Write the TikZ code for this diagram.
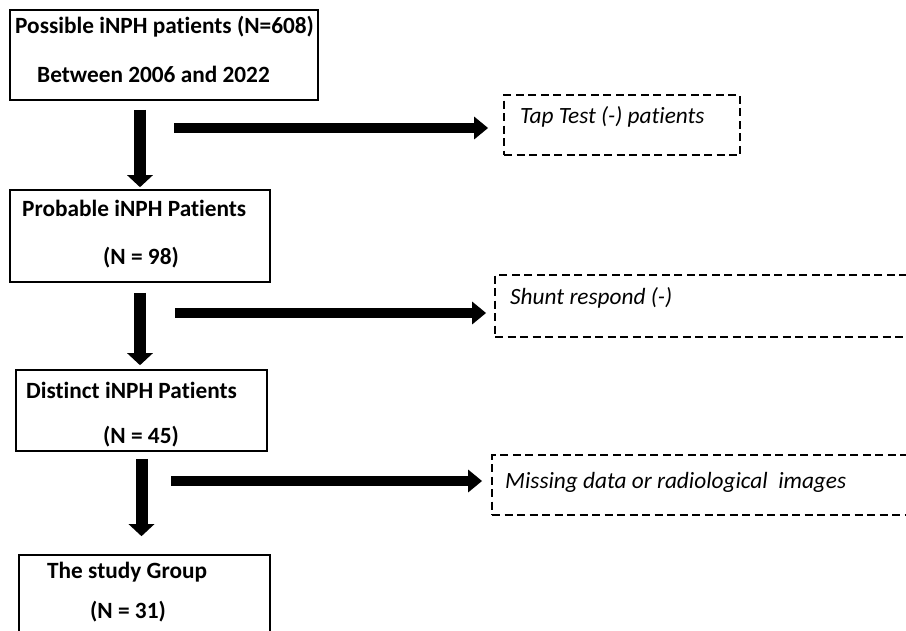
\documentclass[tikz,border=0pt]{standalone}
\usepackage{fontspec}
\setmainfont{Carlito}[Ligatures=NoCommon]
\usepackage{tikz}
\usetikzlibrary{arrows.meta}

\begin{document}
\begin{tikzpicture}[x=1pt, y=-1pt,
    solidbox/.style={draw, line width=1.6pt, inner sep=0pt},
    dashbox/.style={draw, line width=1.8pt, dash pattern=on 8pt off 4.5pt, inner sep=0pt},
    boldtext/.style={anchor=west, inner sep=0pt, font=\fontsize{23.3}{26}\selectfont\bfseries},
    ittext/.style={anchor=west, inner sep=0pt, font=\fontsize{23.3}{26}\selectfont\itshape},
    downarrow/.style={line width=12pt, -{Triangle[width=25pt,length=12pt]}},
    sidearrow/.style={line width=10pt, -{Triangle[width=22pt,length=14pt]}}]
      \useasboundingbox (0,0) rectangle (906,630);
      \clip (0,0) rectangle (906,630);
      % boxes
      \node[solidbox, minimum width=308pt, minimum height=90pt] (possible) at (164,55) {};
      \node[solidbox, minimum width=260pt, minimum height=92pt] (probable) at (140,236) {};
      \node[solidbox, minimum width=251pt, minimum height=81pt] (distinct) at (141.5,410.5) {};
      \node[solidbox, minimum width=251pt, minimum height=95pt] (group) at (144.5,602.5) {};
      \node[dashbox, minimum width=236pt, minimum height=60pt] (tap) at (622,125) {};
      \node[dashbox, minimum width=425pt, minimum height=62pt] (shunt) at (707.5,306) {};
      \node[dashbox, minimum width=428pt, minimum height=60pt] (missing) at (706,485) {};
      % texts
      \node[boldtext] (possibleA) at (15,27) {Possible iNPH patients (N=608)};
      \node[boldtext] (possibleB) at (37,74) {Between 2006 and 2022};
      \node[boldtext] (probableA) at (22,208) {Probable iNPH Patients};
      \node[boldtext] (probableB) at (103,258) {(N = 98)};
      \node[boldtext] (distinctA) at (26,390) {Distinct iNPH Patients};
      \node[boldtext] (distinctB) at (103,437) {(N = 45)};
      \node[boldtext] (groupA) at (47,572) {The study Group};
      \node[boldtext] (groupB) at (90,612) {(N = 31)};
      \node[ittext] (tapT) at (520,117) {Tap Test (-) patients};
      \node[ittext] (shuntT) at (510,298) {Shunt respond (-)};
      \node[ittext] (missingT) at (505,482) {Missing data or radiological~ images};
      % arrows
      \draw[downarrow, shorten <=9pt, shorten >=2pt] (possible.south -| probable.center) -- (probable.north);
      \draw[downarrow, shorten <=10pt, shorten >=4pt] (probable.south) -- (probable.south |- distinct.north);
      \draw[downarrow, shorten <=7pt, shorten >=18pt] (distinct.south) -- (distinct.south |- group.north);
      \coordinate (s1) at (174,128);
      \coordinate (s2) at (175,313);
      \coordinate (s3) at (171,481);
      \draw[sidearrow, shorten >=15pt] (s1) -- (s1 -| tap.west);
      \draw[sidearrow, shorten >=8pt] (s2) -- (s2 -| shunt.west);
      \draw[sidearrow, shorten >=9pt] (s3) -- (s3 -| missing.west);
\end{tikzpicture}
\end{document}
